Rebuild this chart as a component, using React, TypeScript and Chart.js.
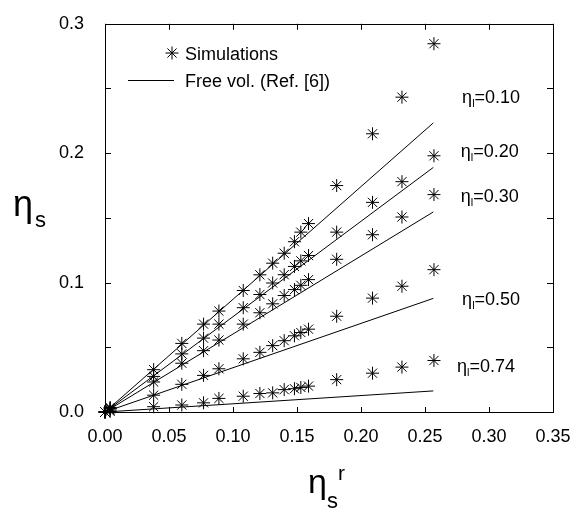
import React, { useEffect, useRef } from "react";
import { Chart, registerables } from "chart.js";
Chart.register(...registerables);

// ---- data ----
const simX = [0, 0.004, 0.038, 0.06, 0.077, 0.089, 0.108, 0.121, 0.131, 0.14, 0.148, 0.153, 0.159, 0.181, 0.209, 0.232, 0.257];
const sim010 = [0, 0.0035, 0.0327, 0.053, 0.0679, 0.078, 0.0939, 0.106, 0.115, 0.1227, 0.1316, 0.139, 0.1456, 0.175, 0.215, 0.2433, 0.2846];
const sim020 = [0, 0.003, 0.0275, 0.0449, 0.0571, 0.0679, 0.0806, 0.0908, 0.0997, 0.1061, 0.1125, 0.1168, 0.1209, 0.139, 0.162, 0.178, 0.198];
const sim030 = [0, 0.0025, 0.0232, 0.0377, 0.0474, 0.0556, 0.0679, 0.0767, 0.0836, 0.09, 0.0946, 0.0979, 0.1023, 0.118, 0.137, 0.1507, 0.168];
const sim050 = [0, 0.0015, 0.013, 0.0214, 0.0283, 0.0334, 0.0411, 0.0461, 0.0513, 0.0551, 0.0589, 0.0614, 0.064, 0.074, 0.088, 0.0972, 0.11];
const sim074 = [0, 0.0005, 0.0041, 0.0054, 0.0071, 0.0105, 0.0122, 0.0143, 0.0148, 0.0173, 0.018, 0.019, 0.02, 0.025, 0.03, 0.0347, 0.0398];

const lineX = [0, 0.2565];
const free010 = [0, 0.2234];
const free020 = [0, 0.189];
const free030 = [0, 0.1546];
const free050 = [0, 0.0878];
const free074 = [0, 0.0163];

const etaLabels = ["0.10", "0.20", "0.30", "0.50", "0.74"];
// label anchors in data units (x, y of text baseline)
const labelX = [0.279, 0.278, 0.278, 0.279, 0.275];
const labelY = [0.2387, 0.1974, 0.1622, 0.0827, 0.0306];

const xTickValues = [0, 0.05, 0.1, 0.15, 0.2, 0.25, 0.3, 0.35];
const yTickValues = [0, 0.05, 0.1, 0.15, 0.2, 0.25, 0.3];
const yLabelValues = [0, 0.1, 0.2, 0.3];

const FONT = "'Liberation Sans', Arial, Helvetica, sans-serif";

const pts = (xs: number[], ys: number[]) => xs.map((x, i) => ({ x, y: ys[i] }));

const simSets = [sim010, sim020, sim030, sim050, sim074];
const freeSets = [free010, free020, free030, free050, free074];

const decorPlugin = {
  id: "decor",
  afterDraw(chart: any) {
    const { ctx, chartArea: a, scales } = chart;
    const xs = scales.x;
    const ys = scales.y;
    ctx.save();
    ctx.strokeStyle = "#000";
    ctx.lineWidth = 1;
    // frame
    ctx.strokeRect(Math.round(a.left) + 0.5, Math.round(a.top) + 0.5, Math.round(a.right - a.left), Math.round(a.bottom - a.top));
    // ticks (inward)
    ctx.beginPath();
    xTickValues.forEach((v) => {
      const px = Math.round(xs.getPixelForValue(v)) + 0.5;
      ctx.moveTo(px, a.bottom);
      ctx.lineTo(px, a.bottom - 5);
      ctx.moveTo(px, a.top);
      ctx.lineTo(px, a.top + 6);
    });
    yTickValues.forEach((v) => {
      const py = Math.round(ys.getPixelForValue(v)) + 0.5;
      ctx.moveTo(a.left, py);
      ctx.lineTo(a.left + 6, py);
      ctx.moveTo(a.right, py);
      ctx.lineTo(a.right - 6, py);
    });
    ctx.stroke();

    ctx.fillStyle = "#000";
    ctx.textBaseline = "alphabetic";
    ctx.textAlign = "left";

    // legend
    const lx = 172, ly = 53, r = 6.5;
    ctx.beginPath();
    for (let k = 0; k < 4; k++) {
      const ang = (k * Math.PI) / 4;
      ctx.moveTo(lx - r * Math.cos(ang), ly - r * Math.sin(ang));
      ctx.lineTo(lx + r * Math.cos(ang), ly + r * Math.sin(ang));
    }
    ctx.stroke();
    ctx.font = `18px ${FONT}`;
    ctx.fillText("Simulations", 185, 60);
    ctx.beginPath();
    ctx.moveTo(128, 80.5);
    ctx.lineTo(174, 80.5);
    ctx.stroke();
    ctx.fillText("Free vol. (Ref. [6])", 185, 87);

    // eta_l labels
    etaLabels.forEach((t, i) => {
      let px = xs.getPixelForValue(labelX[i]);
      const py = ys.getPixelForValue(labelY[i]);
      ctx.font = `18px ${FONT}`;
      ctx.fillText("η", px, py);
      px += ctx.measureText("η").width;
      ctx.font = `11px ${FONT}`;
      ctx.fillText("l", px, py + 4);
      px += ctx.measureText("l").width;
      ctx.font = `18px ${FONT}`;
      ctx.fillText("=" + t, px, py);
    });

    // y title
    ctx.font = `36px ${FONT}`;
    ctx.fillText("η", 13, 216);
    ctx.font = `22px ${FONT}`;
    ctx.fillText("s", 35, 227);

    // x title
    ctx.font = `34px ${FONT}`;
    ctx.fillText("η", 308, 493);
    ctx.font = `22px ${FONT}`;
    ctx.fillText("s", 327, 508);
    ctx.font = `21px ${FONT}`;
    ctx.fillText("r", 338, 480);
    ctx.restore();
  },
};

export default function App() {
  const ref = useRef<HTMLCanvasElement>(null);
  useEffect(() => {
    const datasets: any[] = [];
    freeSets.forEach((f) => {
      datasets.push({
        data: pts(lineX, f),
        showLine: true,
        borderColor: "#000",
        borderWidth: 1,
        pointRadius: 0,
        clip: false,
      });
    });
    simSets.forEach((s) => {
      datasets.push({
        data: pts(simX, s),
        showLine: false,
        pointStyle: "star",
        pointRadius: 6.5,
        borderColor: "#000",
        backgroundColor: "#000",
        borderWidth: 1,
        clip: false,
      });
    });
    const chart = new Chart(ref.current!, {
      type: "scatter",
      data: { datasets },
      plugins: [decorPlugin],
      options: {
        animation: false,
        responsive: false,
        devicePixelRatio: 1,
        layout: { padding: { left: 0, right: 26, top: 20, bottom: 0 } },
        plugins: { legend: { display: false }, tooltip: { enabled: false } },
        scales: {
          x: {
            type: "linear",
            min: 0,
            max: 0.35,
            afterFit: (s: any) => { s.height = 97; },
            afterBuildTicks: (s: any) => { s.ticks = xTickValues.map((v) => ({ value: v })); },
            grid: { display: false },
            border: { display: false },
            ticks: {
              padding: 6,
              color: "#000",
              font: { family: FONT, size: 18 },
              callback: (v: any) => Number(v).toFixed(2),
              maxRotation: 0,
            },
          },
          y: {
            type: "linear",
            min: 0,
            max: 0.3,
            afterFit: (s: any) => { s.width = 105; },
            afterBuildTicks: (s: any) => { s.ticks = yLabelValues.map((v) => ({ value: v })); },
            grid: { display: false },
            border: { display: false },
            ticks: {
              padding: 13,
              color: "#000",
              font: { family: FONT, size: 18 },
              callback: (v: any) => Number(v).toFixed(1),
            },
          },
        },
      } as any,
    });
    return () => chart.destroy();
  }, []);
  return (
    <div style={{ position: "fixed", left: 0, top: 0, width: 579, height: 509, background: "#fff" }}>
      <canvas ref={ref} width={579} height={509} style={{ display: "block", width: 579, height: 509 }} />
    </div>
  );
}
